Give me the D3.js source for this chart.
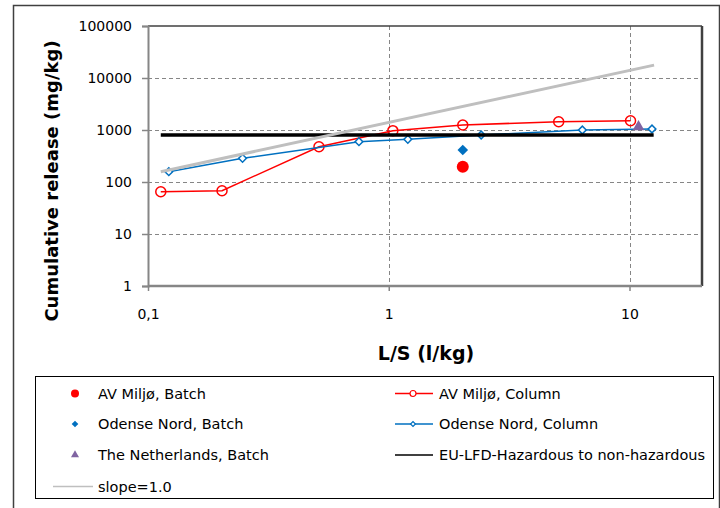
<!DOCTYPE html>
<html lang="da">
<head>
<meta charset="UTF-8">
<title>Cumulative release</title>
<script src="https://cdnjs.cloudflare.com/ajax/libs/d3/7.8.5/d3.min.js"></script>
<style>
  body { margin: 0; background: #fff; }
  svg { display: block; font-family: "DejaVu Sans", Verdana, sans-serif; }
</style>
</head>
<body>
<div id="chart"></div>
<script>
// L/S (l/kg) and cumulative release (mg/kg)
const avColumnLS = [0.113, 0.203, 0.513, 1.04, 2.03, 5.08, 10.1];
const avColumnRelease = [65, 68, 477, 970, 1248, 1444, 1510];
const odenseColumnLS = [0.122, 0.247, 0.752, 1.2, 2.42, 6.37, 12.4];
const odenseColumnRelease = [158, 285, 596, 662, 801, 1000, 1046];
const avBatchLS = [2.03];
const avBatchRelease = [197];
const odenseBatchLS = [2.03];
const odenseBatchRelease = [412];
const nlBatchLS = [10.9];
const nlBatchRelease = [1150];
const euLimitLS = [0.113, 12.6];
const euLimitRelease = [800, 800];
const slopeLS = [0.113, 12.65];
const slopeRelease = [158, 17700];

const xTicks = [0.1, 1, 10];
const xTickLabels = ['0,1', '1', '10'];
const yTicks = [1, 10, 100, 1000, 10000, 100000];

const width = 720, height = 508;
const plot = { left: 148, top: 26, right: 702, bottom: 286 };

const svg = d3.select('#chart').append('svg')
  .attr('width', width).attr('height', height);

// outer frame
svg.append('rect')
  .attr('x', 13.5).attr('y', 5.5)
  .attr('width', 706).attr('height', 520)
  .attr('fill', '#fff').attr('stroke', '#404040').attr('stroke-width', 1.5);

const x = d3.scaleLog().domain([0.1, 10]).range([plot.left, 629.5]);
const y = d3.scaleLog().domain([1, 100000]).range([plot.bottom, plot.top]);

// gridlines
const grid = svg.append('g')
  .attr('stroke', '#868686').attr('stroke-width', 1).attr('stroke-dasharray', '4,3');
grid.selectAll('line.h').data(yTicks.slice(1, -1)).enter().append('line')
  .attr('x1', plot.left).attr('x2', plot.right)
  .attr('y1', d => Math.round(y(d)) + 0.5).attr('y2', d => Math.round(y(d)) + 0.5);
grid.selectAll('line.v').data(xTicks.slice(1)).enter().append('line')
  .attr('x1', d => Math.round(x(d)) + 0.5).attr('x2', d => Math.round(x(d)) + 0.5)
  .attr('y1', plot.top).attr('y2', plot.bottom);

// plot border: dark top/right, grey axes left/bottom
svg.append('line').attr('x1', plot.left).attr('x2', plot.right)
  .attr('y1', plot.top).attr('y2', plot.top)
  .attr('stroke', '#404040').attr('stroke-width', 1.5);
svg.append('line').attr('x1', plot.right).attr('x2', plot.right)
  .attr('y1', plot.top).attr('y2', plot.bottom)
  .attr('stroke', '#404040').attr('stroke-width', 2.5);

const yAxis = d3.axisLeft(y).tickValues(yTicks).tickFormat(d3.format('d'))
  .tickSize(6).tickPadding(10);
const yG = svg.append('g').attr('transform', `translate(${plot.left},0)`).call(yAxis);
yG.select('.domain').attr('stroke', '#868686').attr('stroke-width', 2);
yG.selectAll('.tick line').attr('stroke', '#868686').attr('stroke-width', 1.5);
yG.selectAll('.tick text').attr('font-size', 14).attr('fill', '#000')
  .attr('font-family', '"DejaVu Sans", sans-serif');

const xAxis = d3.axisBottom(x).tickValues(xTicks)
  .tickFormat((d, i) => xTickLabels[i]).tickSize(5).tickPadding(18);
const xG = svg.append('g').attr('transform', `translate(0,${plot.bottom})`).call(xAxis);
xG.select('.domain').attr('stroke', '#868686').attr('stroke-width', 2.5)
  .attr('d', `M${plot.left},0H${plot.right}`);
xG.selectAll('.tick line').attr('stroke', '#868686').attr('stroke-width', 1.5);
xG.selectAll('.tick text').attr('font-size', 14).attr('fill', '#000')
  .attr('font-family', '"DejaVu Sans", sans-serif');

// axis titles
svg.append('text')
  .attr('transform', 'translate(58,181) rotate(-90)')
  .attr('text-anchor', 'middle')
  .attr('font-size', 18).attr('font-weight', 'bold')
  .text('Cumulative release (mg/kg)');
svg.append('text')
  .attr('x', 426).attr('y', 360)
  .attr('text-anchor', 'middle')
  .attr('font-size', 19).attr('font-weight', 'bold')
  .text('L/S (l/kg)');

// series
const zip = (xs, ys) => xs.map((v, i) => [v, ys[i]]);
const line = d3.line().x(d => x(d[0])).y(d => y(d[1]));

const red = '#ff0000', blue = '#0070c0', purple = '#8064a2', grey = '#bfbfbf';
// Excel style diamond = square turned 45 degrees
const diamond = d3.symbol().type(d3.symbolSquare);

// AV Miljø, Batch
svg.append('g').selectAll('circle').data(zip(avBatchLS, avBatchRelease)).enter()
  .append('circle').attr('cx', d => x(d[0])).attr('cy', d => y(d[1]))
  .attr('r', 6).attr('fill', red);

// AV Miljø, Column
svg.append('path').datum(zip(avColumnLS, avColumnRelease))
  .attr('d', line).attr('fill', 'none').attr('stroke', red).attr('stroke-width', 1.5);
svg.append('g').selectAll('circle').data(zip(avColumnLS, avColumnRelease)).enter()
  .append('circle').attr('cx', d => x(d[0])).attr('cy', d => y(d[1]))
  .attr('r', 5).attr('fill', 'none').attr('stroke', red).attr('stroke-width', 1.5);

// Odense Nord, Batch
svg.append('g').selectAll('path').data(zip(odenseBatchLS, odenseBatchRelease)).enter()
  .append('path').attr('d', diamond.size(56))
  .attr('transform', d => `translate(${x(d[0])},${y(d[1])}) rotate(45)`)
  .attr('fill', blue);

// Odense Nord, Column
svg.append('path').datum(zip(odenseColumnLS, odenseColumnRelease))
  .attr('d', line).attr('fill', 'none').attr('stroke', blue).attr('stroke-width', 1.5);
svg.append('g').selectAll('path').data(zip(odenseColumnLS, odenseColumnRelease)).enter()
  .append('path').attr('d', diamond.size(30))
  .attr('transform', d => `translate(${x(d[0])},${y(d[1])}) rotate(45)`)
  .attr('fill', '#fff').attr('stroke', blue).attr('stroke-width', 1.5);

// The Netherlands, Batch
svg.append('g').selectAll('path').data(zip(nlBatchLS, nlBatchRelease)).enter()
  .append('path').attr('d', d3.symbol().type(d3.symbolTriangle).size(60))
  .attr('transform', d => `translate(${x(d[0])},${y(d[1])})`)
  .attr('fill', purple);

// EU-LFD limit
svg.append('path').datum(zip(euLimitLS, euLimitRelease))
  .attr('d', line).attr('fill', 'none').attr('stroke', '#000').attr('stroke-width', 3.5);

// slope = 1.0
svg.append('path').datum(zip(slopeLS, slopeRelease))
  .attr('d', line).attr('fill', 'none').attr('stroke', grey).attr('stroke-width', 3);

// legend
svg.append('rect')
  .attr('x', 35.5).attr('y', 376.5).attr('width', 678).attr('height', 122)
  .attr('fill', '#fff').attr('stroke', '#000').attr('stroke-width', 1);

const legendItems = [
  { name: 'AV Miljø, Batch', col: 0, row: 0, mark: 'dot' },
  { name: 'AV Miljø, Column', col: 1, row: 0, mark: 'circleLine' },
  { name: 'Odense Nord, Batch', col: 0, row: 1, mark: 'diamond' },
  { name: 'Odense Nord, Column', col: 1, row: 1, mark: 'diamondLine' },
  { name: 'The Netherlands, Batch', col: 0, row: 2, mark: 'triangle' },
  { name: 'EU-LFD-Hazardous to non-hazardous', col: 1, row: 2, mark: 'black' },
  { name: 'slope=1.0', col: 0, row: 3, mark: 'grey' }
];
const colX = [53, 395];
const rowY = [393.5, 424, 455, 486.5];

const lg = svg.append('g').selectAll('g').data(legendItems).enter().append('g')
  .attr('transform', d => `translate(${colX[d.col]},${rowY[d.row]})`);

lg.append('text')
  .attr('x', d => d.col === 0 ? 45 : 44).attr('y', 0).attr('dy', '0.35em')
  .attr('font-size', 14.5).attr('fill', '#000')
  .text(d => d.name);

lg.each(function (d) {
  const g = d3.select(this);
  if (d.mark === 'dot') {
    g.append('circle').attr('cx', 22).attr('r', 4).attr('fill', red);
  } else if (d.mark === 'diamond') {
    g.append('path').attr('d', diamond.size(22)).attr('transform', 'translate(22,0) rotate(45)').attr('fill', blue);
  } else if (d.mark === 'triangle') {
    g.append('path').attr('d', d3.symbol().type(d3.symbolTriangle).size(28))
      .attr('transform', 'translate(22,0)').attr('fill', purple);
  } else if (d.mark === 'grey') {
    g.append('line').attr('x1', 0).attr('x2', 40).attr('stroke', grey).attr('stroke-width', 1.5);
  } else if (d.mark === 'black') {
    g.append('line').attr('x1', 0).attr('x2', 38).attr('stroke', '#000').attr('stroke-width', 1.5);
  } else if (d.mark === 'circleLine') {
    g.append('line').attr('x1', 0).attr('x2', 38).attr('stroke', red).attr('stroke-width', 1.5);
    g.append('circle').attr('cx', 18).attr('r', 3).attr('fill', '#fff').attr('stroke', red).attr('stroke-width', 1.2);
  } else if (d.mark === 'diamondLine') {
    g.append('line').attr('x1', 0).attr('x2', 38).attr('stroke', blue).attr('stroke-width', 1.5);
    g.append('path').attr('d', diamond.size(12)).attr('transform', 'translate(18,0) rotate(45)')
      .attr('fill', '#fff').attr('stroke', blue).attr('stroke-width', 1.2);
  }
});
</script>
</body>
</html>
